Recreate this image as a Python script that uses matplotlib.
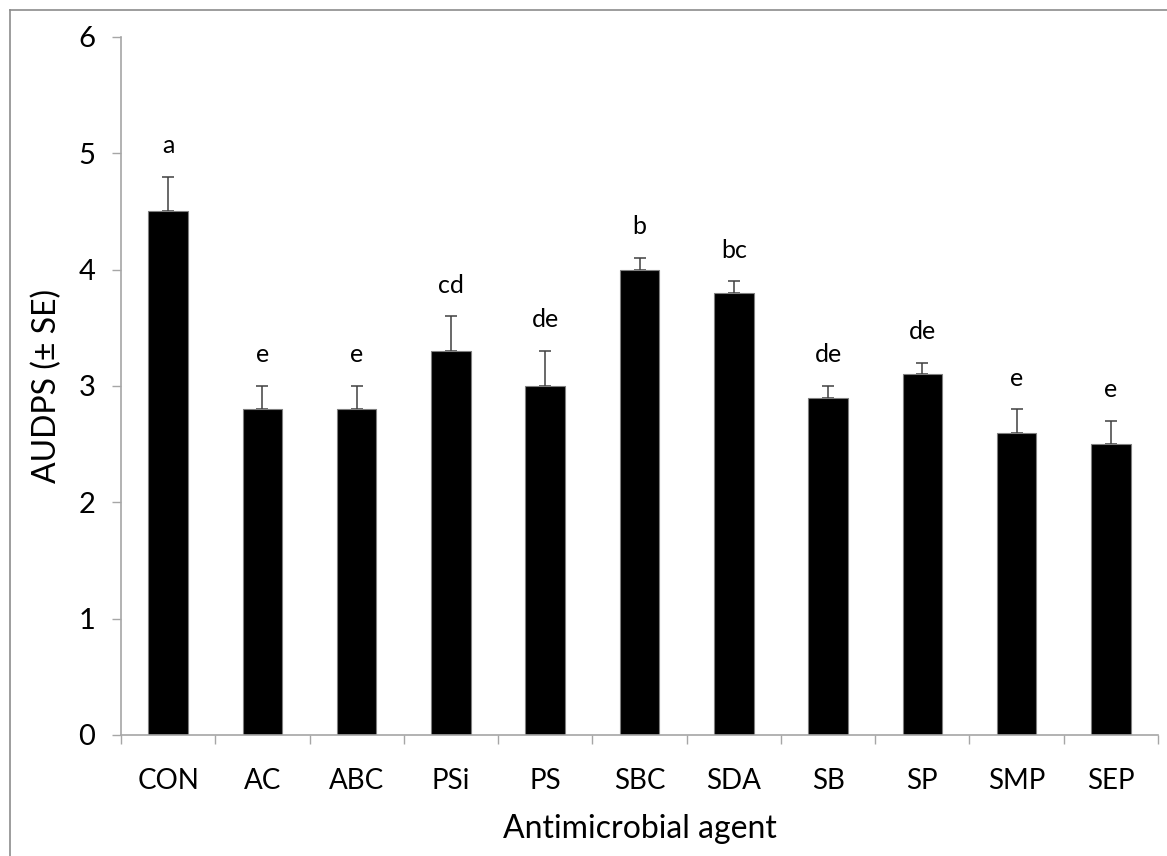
import matplotlib
matplotlib.use("Agg")
from matplotlib import pyplot as plt
from matplotlib.lines import Line2D
import numpy as np

plt.rcParams['font.family'] = ['Lato', 'DejaVu Sans']

agents = ['CON', 'AC', 'ABC', 'PSi', 'PS', 'SBC', 'SDA', 'SB', 'SP', 'SMP', 'SEP']
audps = [4.5, 2.8, 2.8, 3.3, 3.0, 4.0, 3.8, 2.9, 3.1, 2.6, 2.5]
se = [0.3, 0.2, 0.2, 0.3, 0.3, 0.1, 0.1, 0.1, 0.1, 0.2, 0.2]
letters = ['a', 'e', 'e', 'cd', 'de', 'b', 'bc', 'de', 'de', 'e', 'e']

GRAY = '#a6a6a6'

fig = plt.figure(figsize=(11.67, 8.56), dpi=100)
ax = fig.add_axes([0.1037, 0.1414, 0.8886, 0.8154])

x = np.arange(len(agents))
ax.bar(x, audps, width=0.42, color='black', edgecolor='#7f7f7f', linewidth=0.8, zorder=2)
ax.errorbar(x, audps, yerr=[np.zeros(len(se)), se], fmt='none', ecolor='#404040',
            elinewidth=1.1, capsize=4, capthick=1.1, zorder=1)

for xi, top, lab in zip(x, np.array(audps) + np.array(se), letters):
    ax.annotate(lab, (xi, top), xytext=(0, 17), textcoords='offset points',
                ha='center', va='baseline', fontsize=18)

ax.set_xlim(-0.5, len(agents) - 0.5)
ax.set_ylim(0, 6)
ax.set_yticks(range(0, 7))
ax.set_xticks(x)
ax.set_xticklabels(agents)
ax.set_xticks(np.arange(-0.5, len(agents)), minor=True)
ax.tick_params(axis='x', which='major', length=0, pad=24, labelsize=20)
ax.tick_params(axis='x', which='minor', length=6.5, width=1, color=GRAY, direction='out')
ax.tick_params(axis='y', length=6.5, width=1, color=GRAY, direction='out', pad=12, labelsize=21)

for side in ['top', 'right']:
    ax.spines[side].set_visible(False)
for side in ['left', 'bottom']:
    ax.spines[side].set_color(GRAY)
    ax.spines[side].set_linewidth(1.2)

ax.set_xlabel('Antimicrobial agent', fontsize=23, labelpad=14)
ax.set_ylabel('AUDPS (± SE)', fontsize=23, labelpad=12)

# outer frame (top and left edges visible in the original)
fig.add_artist(Line2D([10 / 1167, 10 / 1167], [0, 1 - 10 / 856], transform=fig.transFigure,
                      color='#8c8c8c', linewidth=1.2))
fig.add_artist(Line2D([10 / 1167, 1], [1 - 10 / 856, 1 - 10 / 856], transform=fig.transFigure,
                      color='#8c8c8c', linewidth=1.2))

fig.savefig('out.png', dpi=100)
